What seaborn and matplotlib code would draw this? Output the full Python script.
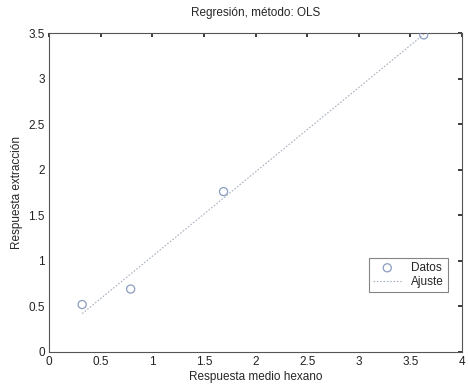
import matplotlib
matplotlib.use("Agg")
import matplotlib.pyplot as plt
import seaborn as sns
import numpy as np
import pandas as pd

sns.set_theme(style="white")
plt.rcParams['font.family'] = ['Liberation Sans', 'DejaVu Sans']

x_hexano = [0.32, 0.79, 1.69, 3.63]
y_extraccion = [0.52, 0.69, 1.76, 3.48]
x_ticks = [0, 0.5, 1, 1.5, 2, 2.5, 3, 3.5, 4]
y_ticks = [0, 0.5, 1, 1.5, 2, 2.5, 3, 3.5]
x_tick_labels = ["0", "0.5", "1", "1.5", "2", "2.5", "3", "3.5", "4"]
y_tick_labels = ["0", "0.5", "1", "1.5", "2", "2.5", "3", "3.5"]

df = pd.DataFrame({"x": x_hexano, "y": y_extraccion})
slope, intercept = np.polyfit(df["x"], df["y"], 1)
fit_x = [min(x_hexano), max(x_hexano)]
fit_df = pd.DataFrame({"x": fit_x, "y": [slope * v + intercept for v in fit_x]})

fig = plt.figure(figsize=(4.68, 3.85), dpi=100)
ax = fig.add_axes([0.105, 0.086, 0.882, 0.828])

sns.scatterplot(data=df, x="x", y="y", ax=ax, marker="o", s=34,
                facecolors="none", edgecolor="#8a9cc0", linewidth=0.9,
                label="Datos", zorder=3)
sns.lineplot(data=fit_df, x="x", y="y", ax=ax, color="#a8b0c0",
             linewidth=0.8, linestyle=(0, (1.5, 1.5)), label="Ajuste")

ax.set_xlim(0, 4)
ax.set_ylim(0, 3.5)
ax.set_xticks(x_ticks)
ax.set_xticklabels(x_tick_labels)
ax.set_yticks(y_ticks)
ax.set_yticklabels(y_tick_labels)
ax.tick_params(direction="in", length=3, top=True, right=True,
               labelsize=8.5, colors="#222222", pad=3)
for sp in ax.spines.values():
    sp.set_color("#555555")
    sp.set_linewidth(0.8)

ax.set_title("Regresión, método: OLS", fontsize=8.5, pad=12)
ax.set_xlabel("Respuesta medio hexano", fontsize=8.5, labelpad=2)
ax.set_ylabel("Respuesta extracción", fontsize=8.5, labelpad=4)

leg = ax.legend(loc="lower right", bbox_to_anchor=(0.98, 0.17), fontsize=8.5,
                frameon=True, fancybox=False, edgecolor="#666666",
                borderpad=0.35, handlelength=2.4, labelspacing=0.15)
leg.get_frame().set_linewidth(0.8)

fig.savefig("out.png", dpi=100)
